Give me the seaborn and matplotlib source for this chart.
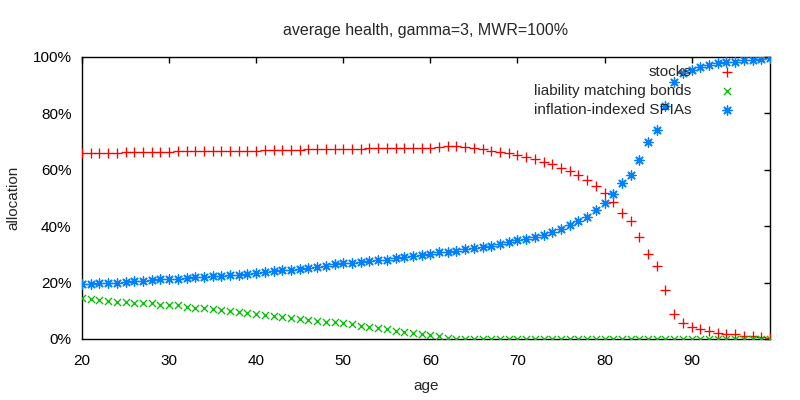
import numpy as np
import pandas as pd
import matplotlib
matplotlib.use("Agg")
import matplotlib.pyplot as plt
import seaborn as sns
from matplotlib.ticker import FuncFormatter, MultipleLocator

ages = list(range(20, 100))

stocks = [65.8, 65.8, 65.9, 66.1, 66.1, 66.2, 66.2, 66.2, 66.2, 66.3,
          66.4, 66.5, 66.5, 66.5, 66.6, 66.6, 66.6, 66.7, 66.8, 66.8,
          66.8, 66.9, 66.9, 67.0, 67.1, 67.1, 67.2, 67.2, 67.3, 67.4,
          67.5, 67.5, 67.5, 67.6, 67.6, 67.6, 67.7, 67.8, 67.8, 67.8,
          67.9, 68.1, 68.3, 68.3, 68.0, 67.6, 67.3, 66.8, 66.4, 65.8,
          65.2, 64.6, 63.7, 62.9, 61.9, 60.8, 59.5, 58.1, 56.3, 54.1,
          51.7, 48.5, 44.6, 41.7, 36.3, 30.0, 25.9, 17.4, 8.8, 5.6,
          4.4, 3.7, 2.8, 2.1, 1.7, 1.6, 1.1, 0.9, 0.8, 0.3]

bonds = [14.4, 14.3, 13.8, 13.6, 13.2, 13.2, 12.9, 12.8, 12.6, 12.2,
         12.2, 11.9, 11.3, 11.1, 11.0, 10.5, 10.2, 9.9, 9.6, 9.2,
         8.7, 8.4, 8.2, 7.8, 7.4, 7.2, 6.6, 6.4, 6.0, 5.9,
         5.6, 5.2, 4.7, 4.4, 4.0, 3.4, 3.0, 2.4, 2.3, 1.8,
         1.4, 1.2, 0.5, 0.1] + [0.0] * 36

spias = [19.5, 19.5, 19.7, 19.8, 20.0, 20.1, 20.4, 20.5, 20.8, 21.1,
         21.2, 21.3, 21.6, 21.9, 22.0, 22.3, 22.4, 22.7, 22.8, 23.0,
         23.4, 23.8, 24.1, 24.5, 24.6, 24.9, 25.2, 25.6, 25.8, 26.5,
         26.8, 26.9, 27.2, 27.5, 27.9, 28.1, 28.7, 29.1, 29.4, 29.8,
         30.0, 30.7, 31.0, 31.3, 31.9, 32.2, 32.5, 33.1, 33.7, 34.5,
         35.1, 35.5, 36.1, 36.8, 37.8, 39.0, 40.3, 41.7, 43.4, 45.6,
         48.1, 51.3, 55.2, 58.2, 63.5, 69.7, 74.1, 82.5, 91.0, 94.3,
         95.5, 96.3, 97.2, 97.8, 98.2, 98.3, 98.8, 99.1, 99.2, 99.7]

labels = ["stocks", "liability matching bonds", "inflation-indexed SPIAs"]
colors = ["#ff0000", "#00c000", "#0080ff"]
markers = ["+", "x", (8, 2, 0)]
msizes = [42, 26, 44]

sns.set_style("white")
plt.rcParams["font.family"] = ["Liberation Sans", "DejaVu Sans"]
FS = 11

fig = plt.figure(figsize=(8, 4), dpi=100)
ax = fig.add_axes([82 / 800, 1 - 339 / 400, (770 - 82) / 800, (339 - 57) / 400])

for vals, lab, col, mk, ms in zip([stocks, bonds, spias], labels, colors, markers, msizes):
    df = pd.DataFrame({"age": ages, "allocation": vals})
    sns.scatterplot(data=df, x="age", y="allocation", marker=mk, color=col,
                    s=ms, linewidth=0.95, ax=ax, label=lab, zorder=3)

ax.set_xlim(20, 99)
ax.set_ylim(0, 100)
ax.xaxis.set_major_locator(MultipleLocator(10))
ax.yaxis.set_major_locator(MultipleLocator(20))
ax.yaxis.set_major_formatter(FuncFormatter(lambda v, p: f"{int(round(v))}%"))
ax.tick_params(direction="in", length=4, width=1, top=True, right=True,
               labelsize=FS, colors="black")
ax.tick_params(axis="x", pad=11)
ax.tick_params(axis="y", pad=7.5)
for sp in ax.spines.values():
    sp.set_visible(True)
    sp.set_color("black")
    sp.set_linewidth(1)

ax.set_xlabel("age", fontsize=FS, labelpad=8)
ax.set_ylabel("allocation", fontsize=FS, labelpad=9)
ax.set_title("average health, gamma=3, MWR=100%", fontsize=11.5, pad=16)

leg = ax.legend(loc="upper right", bbox_to_anchor=(0.959, 0.973), frameon=False,
                markerfirst=False, fontsize=FS, borderpad=0, borderaxespad=0,
                handletextpad=1.3, labelspacing=0.33, handlelength=2.0)

fig.savefig("out.png", dpi=100)
